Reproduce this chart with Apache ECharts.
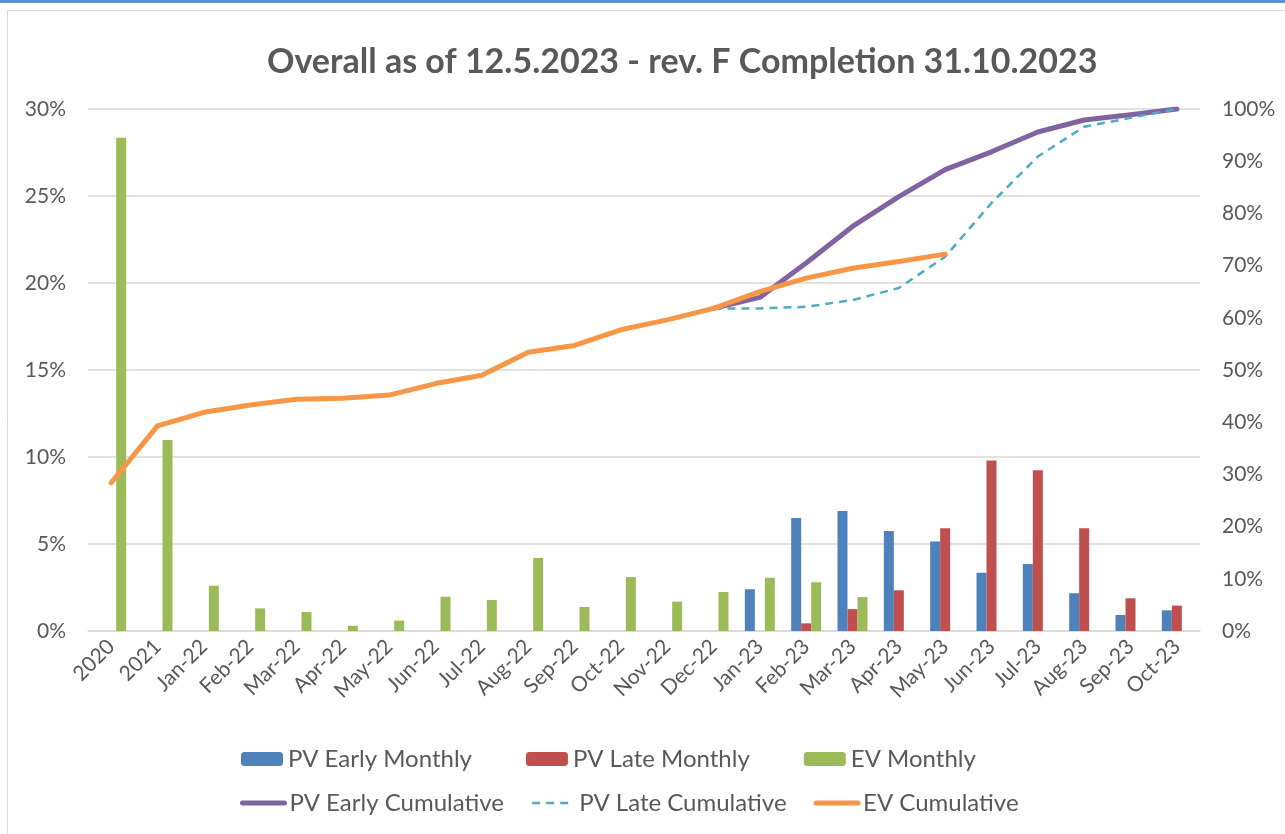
<!DOCTYPE html>
<html>
<head>
<meta charset="utf-8">
<title>Overall as of 12.5.2023</title>
<script src="https://cdn.jsdelivr.net/npm/echarts@6/dist/echarts.min.js"></script>
<style>
	html, body { margin: 0; padding: 0; background: #fff; }
	#main { width: 1285px; height: 834px; }
</style>
</head>
<body>
<div id="main"></div>
<script>
// categories and values (percent)
var months = ['2020', '2021', 'Jan-22', 'Feb-22', 'Mar-22', 'Apr-22', 'May-22', 'Jun-22', 'Jul-22', 'Aug-22',
	'Sep-22', 'Oct-22', 'Nov-22', 'Dec-22', 'Jan-23', 'Feb-23', 'Mar-23', 'Apr-23', 'May-23', 'Jun-23',
	'Jul-23', 'Aug-23', 'Sep-23', 'Oct-23'];

var pvEarlyMonthly = [null, null, null, null, null, null, null, null, null, null, null, null, null, null,
	2.4, 6.5, 6.9, 5.75, 5.15, 3.35, 3.85, 2.17, 0.92, 1.19];
var pvLateMonthly = [null, null, null, null, null, null, null, null, null, null, null, null, null, null,
	null, 0.44, 1.26, 2.34, 5.9, 9.8, 9.24, 5.9, 1.88, 1.46];
var evMonthly = [28.35, 10.98, 2.6, 1.3, 1.09, 0.3, 0.6, 1.97, 1.78, 4.2, 1.38, 3.1, 1.69, 2.24,
	3.06, 2.8, 1.95, null, null, null, null, null, null, null];

var pvEarlyCum = [null, null, null, null, null, null, null, null, null, null, null, null, null, 61.8,
	63.9, 70.5, 77.5, 83.2, 88.4, 91.8, 95.6, 97.9, 98.9, 100];
var pvLateCum = [null, null, null, null, null, null, null, null, null, null, null, null, null, 61.8,
	61.8, 62.1, 63.4, 65.7, 71.7, 82.0, 90.9, 96.6, 98.3, 100];
var evCum = [28.4, 39.3, 41.9, 43.3, 44.4, 44.6, 45.2, 47.4, 49.0, 53.4, 54.7, 57.7, 59.6, 61.8,
	65.0, 67.6, 69.5, 70.8, 72.2, null, null, null, null, null];

var leftTicks = { min: 0, max: 30, step: 5 };
var rightTicks = { min: 0, max: 100, step: 10 };

(function(){
	var font = 'Lato, "Open Sans", sans-serif';
	var grey = '#595959';
	var myChart = echarts.init(document.getElementById('main'));

	var option = {
		backgroundColor: '#fff',
		animation: false,
		textStyle: { fontFamily: font },
		// frame of the chart area (excel look)
		graphic: [
			{ type: 'rect', shape: { x: 0, y: 0, width: 1285, height: 3 }, style: { fill: '#5b8fd8' } },
			{ type: 'rect', shape: { x: 7.5, y: 10.5, width: 1400, height: 900 },
				style: { fill: 'none', stroke: '#d9d9d9', lineWidth: 1 } }
		],
		title: {
			text: 'Overall as of 12.5.2023 - rev. F Completion 31.10.2023',
			left: 262,
			top: 40,
			textStyle: { fontFamily: font, fontSize: 34, fontWeight: 'bold', color: grey }
		},
		color: ['#4f81bd', '#c0504d', '#9bbb59', '#8064a2', '#4bacc6', '#f79646'],
		grid: { left: 88, right: 85, top: 109, bottom: 203, containLabel: false },
		legend: [
			{
				data: ['PV Early Monthly', 'PV Late Monthly', 'EV Monthly'],
				left: 236,
				top: 742,
				itemWidth: 42,
				itemHeight: 14,
				itemGap: 54,
				textStyle: { fontFamily: font, fontSize: 24, color: grey }
			},
			{
				data: ['PV Early Cumulative', 'PV Late Cumulative', 'EV Cumulative'],
				left: 235,
				top: 786,
				itemWidth: 42,
				itemHeight: 14,
				itemGap: 27,
				itemStyle: { opacity: 0 },
				lineStyle: { width: 'inherit' },
				textStyle: { fontFamily: font, fontSize: 24, color: grey }
			}
		],
		xAxis: {
			type: 'category',
			data: months,
			axisLine: { lineStyle: { color: '#d9d9d9', width: 1.5 } },
			axisTick: { show: false },
			axisLabel: { interval: 0, rotate: 45, margin: 12, fontSize: 21, color: grey, fontFamily: font }
		},
		yAxis: [
			{
				type: 'value',
				min: leftTicks.min,
				max: leftTicks.max,
				interval: leftTicks.step,
				axisLine: { show: false },
				axisTick: { show: false },
				splitLine: { lineStyle: { color: '#d9d9d9', width: 1.5 } },
				axisLabel: { formatter: '{value}%', margin: 22, fontSize: 21, color: grey, fontFamily: font }
			},
			{
				type: 'value',
				min: rightTicks.min,
				max: rightTicks.max,
				interval: rightTicks.step,
				axisLine: { show: false },
				axisTick: { show: false },
				splitLine: { show: false },
				axisLabel: { formatter: '{value}%', margin: 22, fontSize: 21, color: grey, fontFamily: font }
			}
		],
		series: [
			{ name: 'PV Early Monthly', type: 'bar', barWidth: 10, barGap: '0%', data: pvEarlyMonthly },
			{ name: 'PV Late Monthly', type: 'bar', barWidth: 10, barGap: '0%', data: pvLateMonthly },
			{ name: 'EV Monthly', type: 'bar', barWidth: 10, barGap: '0%', data: evMonthly },
			{
				name: 'PV Early Cumulative', type: 'line', yAxisIndex: 1, symbol: 'none',
				lineStyle: { width: 5, cap: 'round', join: 'round' },
				data: pvEarlyCum
			},
			{
				name: 'PV Late Cumulative', type: 'line', yAxisIndex: 1, symbol: 'none',
				lineStyle: { width: 2.5, type: [8, 6], cap: 'butt' },
				data: pvLateCum
			},
			{
				name: 'EV Cumulative', type: 'line', yAxisIndex: 1, symbol: 'none',
				lineStyle: { width: 5, cap: 'round', join: 'round' },
				data: evCum
			}
		]
	};
	myChart.setOption(option);
})();
</script>
</body>
</html>
